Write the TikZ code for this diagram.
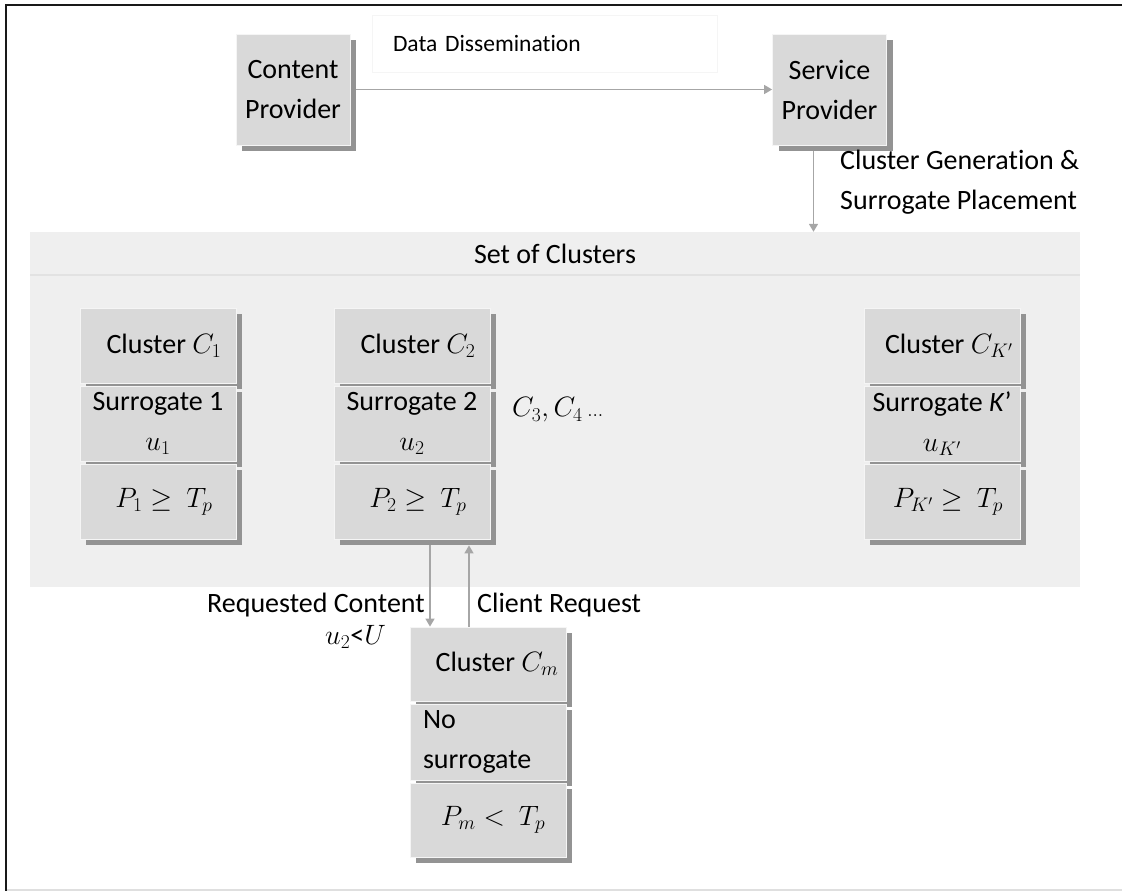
\RequirePackage{fix-cm}
\documentclass[tikz,border=0pt]{standalone}
\usepackage{fontspec}
\setmainfont{Carlito}[Ligatures=NoCommon]
\usetikzlibrary{shadows,arrows.meta,calc}

\definecolor{boxgray}{HTML}{D9D9D9}
\definecolor{shadowgray}{HTML}{939393}
\definecolor{regiongray}{HTML}{EFEFEF}
\definecolor{sepgray}{HTML}{E2E2E2}
\definecolor{linegray}{HTML}{A6A6A6}

\tikzset{
  every node/.style={font=\fontsize{28}{40}\selectfont},
  box/.style={rectangle, fill=boxgray, draw=white!92!gray, line width=0.8pt,
    inner sep=2pt, align=center,
    drop shadow={shadow xshift=6pt, shadow yshift=-6pt, fill=shadowgray, opacity=1}},
  provbox/.style={box, minimum width=114pt, minimum height=111pt},
  cell/.style={box, minimum width=156pt, minimum height=75pt},
  arr/.style={draw=linegray, line width=1.6pt, -{Triangle[width=9pt,length=8pt]}},
  lbl/.style={inner sep=0pt}
}

\begin{document}
\begin{tikzpicture}[x=1pt,y=-1pt]
\useasboundingbox (0,0) rectangle (1122,891);

% frame
\draw[line width=2.5pt, black!90] (6,891) -- (6,5) -- (1122,5);
\draw[line width=2pt, gray!25] (7,889.5) -- (1122,889.5);

% top row
\node[rectangle, fill=white, draw=gray!8, minimum width=345pt, minimum height=57pt,
      text width=303pt, align=left, inner sep=0pt, font=\fontsize{23.5}{30}\selectfont]
  (dd) at (544.5,43.5) {Data Dissemination};
\node[provbox] (cp) at (293,89.5) {Content\\Provider};
\node[provbox] (sp) at (829.5,89.5) {Service\\Provider};

% set of clusters
\node[rectangle, fill=regiongray, minimum width=1050pt, minimum height=355pt, inner sep=0pt]
  (set) at (555,409.5) {};
\draw[sepgray, line width=2pt] (set.west |- 0,275) -- (set.east |- 0,275);
\node[lbl] (sethead) at (555,254) {Set of Clusters};

\draw[arr] ([xshift=6pt]cp.east) -- (sp.west);
\draw[arr] ([xshift=-16pt,yshift=-6pt]sp.south) -- ([xshift=-16pt]sp.south |- set.north);
\node[lbl, anchor=north west, align=left] (cg) at (840,150) {Cluster Generation \&\\Surrogate Placement};

% cluster C1
\node[cell] (c1a) at (158,345.5) {\hspace*{12pt}Cluster $C_1$};
\node[cell] (c1b) at (158,423.5) {Surrogate 1\\$u_1$};
\node[cell] (c1c) at (158,501.5) {\hspace*{12pt}$P_1 \geq\ T_p$};

% cluster C2
\node[cell] (c2a) at (412,345.5) {\hspace*{12pt}Cluster $C_2$};
\node[cell] (c2b) at (412,423.5) {Surrogate 2\\$u_2$};
\node[cell] (c2c) at (412,501.5) {\hspace*{12pt}$P_2 \geq\ T_p$};

\node[lbl, anchor=west] (more) at (512,410) {$C_3, C_4\,{\scriptstyle\ldots}$};

% cluster CK'
\node[cell] (cka) at (942,345.5) {\hspace*{14pt}Cluster $C_{K'}$};
\node[cell] (ckb) at (942,423.5) {Surrogate \textit{K}’\\$u_{K'}$};
\node[cell] (ckc) at (942,501.5) {\hspace*{12pt}$P_{K'} \geq\ T_p$};

% cluster Cm
\node[cell, minimum height=74pt] (cma) at (488,664) {\hspace*{18pt}Cluster $C_m$};
\node[cell, minimum height=76pt, text width=130pt, align=left] (cmb) at (488,742) {No\\surrogate};
\node[cell, minimum height=74pt] (cmc) at (488,820) {\hspace*{10pt}$P_m <\ T_p$};

% request / response
\coordinate (dn) at ([xshift=18pt,yshift=-6pt]c2c.south);
\coordinate (up) at ([xshift=-19pt]cma.north);
\draw[arr] (dn) -- (dn |- cma.north);
\draw[arr] (up) -- (up |- dn);

\node[lbl, anchor=east] (rq) at (425,605) {Requested Content};
\node[lbl, anchor=east] (u2) at (386,637) {$u_2$<$U$};
\node[lbl, anchor=west] (cr) at (477,605) {Client Request};
\end{tikzpicture}
\end{document}
